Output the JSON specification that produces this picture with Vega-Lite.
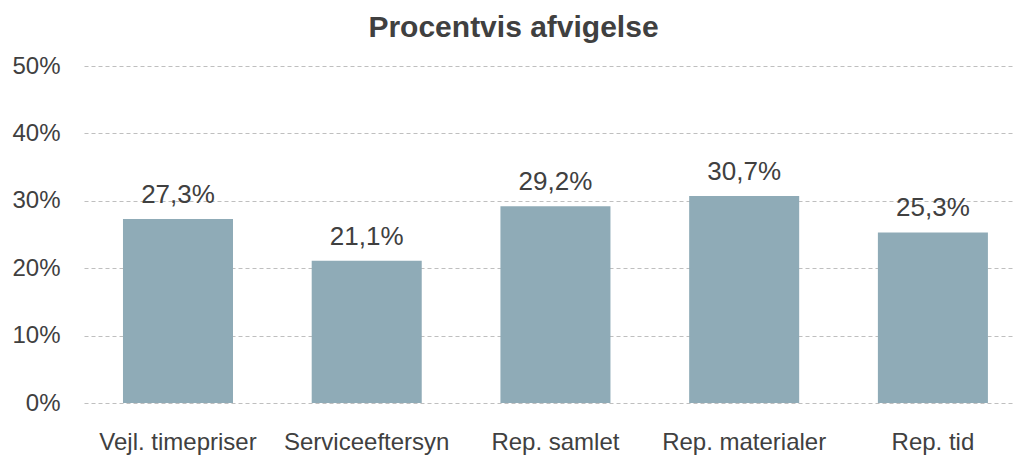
{
  "$schema": "https://vega.github.io/schema/vega-lite/v6.json",
  "autosize": "none",
  "width": 931,
  "height": 337,
  "padding": {"left": 84, "top": 66, "right": 0, "bottom": 52},
  "background": "white",
  "config": {
    "view": {"stroke": null},
    "font": "Liberation Sans"
  },
  "title": {
    "text": "Procentvis afvigelse",
    "font": "Liberation Sans",
    "fontSize": 30,
    "fontWeight": "bold",
    "color": "#404040",
    "anchor": "middle",
    "baseline": "alphabetic",
    "offset": -13,
    "dx": -36
  },
  "data": {
    "values": [
      {"kategori": "Vejl. timepriser", "værdi": 0.273, "label": "27,3%"},
      {"kategori": "Serviceeftersyn", "værdi": 0.211, "label": "21,1%"},
      {"kategori": "Rep. samlet", "værdi": 0.292, "label": "29,2%"},
      {"kategori": "Rep. materialer", "værdi": 0.307, "label": "30,7%"},
      {"kategori": "Rep. tid", "værdi": 0.253, "label": "25,3%"}
    ]
  },
  "encoding": {
    "x": {
      "field": "kategori",
      "type": "nominal",
      "sort": null,
      "scale": {"paddingInner": 0.417, "paddingOuter": 0.175, "align": 0.59},
      "axis": {
        "title": null,
        "labelAngle": 0,
        "ticks": false,
        "domain": false,
        "labelFontSize": 24,
        "labelColor": "#404040",
        "labelPadding": 27,
        "labelFont": "Liberation Sans"
      }
    },
    "y": {
      "field": "værdi",
      "type": "quantitative",
      "scale": {"domain": [0, 0.5], "nice": false},
      "axis": {
        "title": null,
        "format": ".0%",
        "values": [0, 0.1, 0.2, 0.3, 0.4, 0.5],
        "ticks": false,
        "domain": false,
        "labelFontSize": 24,
        "labelColor": "#404040",
        "labelPadding": 24,
        "labelFont": "Liberation Sans",
        "grid": true,
        "gridColor": "#bfbfbf",
        "gridDash": [4, 3],
        "gridWidth": 1
      }
    }
  },
  "layer": [
    {
      "mark": {"type": "bar", "color": "#8FABB7"}
    },
    {
      "mark": {
        "type": "text",
        "baseline": "alphabetic",
        "dy": -16,
        "fontSize": 26,
        "color": "#404040",
        "font": "Liberation Sans"
      },
      "encoding": {"text": {"field": "label"}}
    }
  ]
}
